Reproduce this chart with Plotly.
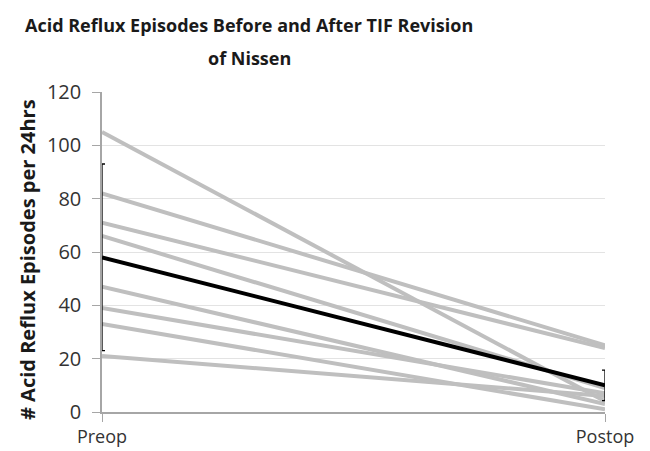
import plotly.graph_objects as go

categories = ["Preop", "Postop"]
patients_preop = [105, 82, 71, 66, 47, 39, 33, 21]
patients_postop = [4, 25, 24, 9, 3, 7, 1, 6]
mean_values = [58, 10]
mean_err = [35, 5.7]
y_ticks = [0, 20, 40, 60, 80, 100, 120]
title_lines = ["Acid Reflux Episodes Before and After TIF Revision", "of Nissen"]

xpos = [0, 1]
fig = go.Figure()
for a, b in zip(patients_preop, patients_postop):
    fig.add_trace(go.Scatter(x=xpos, y=[a, b], mode="lines",
                             line=dict(color="#bfbfbf", width=4),
                             showlegend=False, cliponaxis=False, hoverinfo="skip"))
fig.add_trace(go.Scatter(x=xpos, y=mean_values, mode="lines",
                         line=dict(color="#000000", width=4),
                         error_y=dict(type="data", array=mean_err, visible=True,
                                      color="#000000", thickness=1.3, width=3),
                         showlegend=False, cliponaxis=False))

title_font = dict(family="Open Sans", size=18, color="#1a1a1a")
fig.add_annotation(text="<b>" + title_lines[0] + "</b>", xref="paper", yref="paper",
                   x=(249 - 102) / 503, y=(412 - 25) / 320, xanchor="center", yanchor="middle",
                   showarrow=False, font=title_font)
fig.add_annotation(text="<b>" + title_lines[1] + "</b>", xref="paper", yref="paper",
                   x=(249 - 102) / 503, y=(412 - 58) / 320, xanchor="center", yanchor="middle",
                   showarrow=False, font=title_font)
fig.add_annotation(text="<b># Acid Reflux Episodes per 24hrs</b>", xref="paper", yref="paper",
                   x=(27 - 102) / 503, y=(412 - 260) / 320, xanchor="center", yanchor="middle",
                   textangle=-90, showarrow=False,
                   font=dict(family="Open Sans", size=20, color="#1a1a1a"))

fig.update_layout(
    width=650, height=451,
    margin=dict(l=102, r=45, t=92, b=39, autoexpand=False),
    paper_bgcolor="white", plot_bgcolor="white",
    font=dict(family="Open Sans", color="#333333"),
)
fig.update_xaxes(range=[0, 1], tickvals=xpos, ticktext=categories,
                 showgrid=False, zeroline=False, showline=True,
                 linecolor="#a6a6a6", linewidth=1.5, automargin=False,
                 ticks="outside", ticklen=8, tickcolor="#a6a6a6",
                 ticklabelstandoff=0,
                 tickfont=dict(size=18, color="#333333"))
fig.update_yaxes(range=[0, 120], tickvals=y_ticks, showgrid=True,
                 gridcolor="#e3e3e3", gridwidth=1, zeroline=False,
                 showline=True, linecolor="#a6a6a6", linewidth=1.5,
                 ticks="outside", ticklen=8, tickcolor="#a6a6a6",
                 ticklabelstandoff=7, automargin=False,
                 tickfont=dict(size=20, color="#333333"))
fig.write_html("out.html", config={"displayModeBar": False},
               post_script="document.body.style.margin='0';")
